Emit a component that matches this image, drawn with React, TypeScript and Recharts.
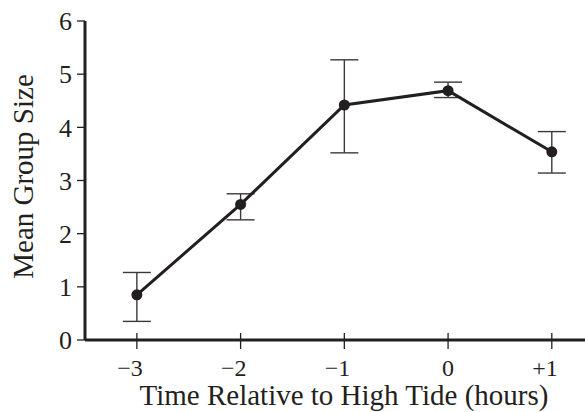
import * as React from 'react';
import { LineChart, Line, XAxis, YAxis, ErrorBar } from 'recharts';

// Time relative to high tide (hours)
const hours = [-3, -2, -1, 0, 1];
// Mean group size at each time
const means = [0.85, 2.55, 4.42, 4.69, 3.54];
// Error bar ends
const lower = [0.35, 2.26, 3.52, 4.56, 3.14];
const upper = [1.27, 2.75, 5.27, 4.85, 3.92];
const yTicks = [0, 1, 2, 3, 4, 5, 6];

const INK = '#231f20';
const FONT = "'Liberation Serif', 'Times New Roman', serif";

const data = hours.map((h, i) => ({
  hour: h,
  mean: means[i],
  err: [means[i] - lower[i], upper[i] - means[i]],
}));

function formatHour(h: number) {
  if (h > 0) return `+${h}`;
  if (h < 0) return `\u2212${Math.abs(h)}`;
  return `${h}`;
}

// x tick: the mark crosses the axis, digit sits under the mark
function HourTick(props: any) {
  const { x, y, payload } = props;
  return (
    <g>
      <line x1={x} x2={x} y1={y - 7} y2={y + 9} stroke={INK} strokeWidth={1.3} />
      <text
        x={x + 6}
        y={y + 35.5}
        textAnchor="end"
        style={{ fontFamily: FONT, fontSize: 24 }}
        fill={INK}
      >
        {formatHour(payload.value)}
      </text>
    </g>
  );
}

export default function App() {
  return (
    <div
      style={{
        position: 'absolute',
        left: 0,
        top: 0,
        background: '#fff',
        fontFamily: FONT,
      }}
    >
      <LineChart
        width={585}
        height={412}
        data={data}
        margin={{ top: 21, right: 0, bottom: 0, left: 0 }}
        style={{ fontFamily: FONT }}
      >
        <XAxis
          dataKey="hour"
          type="number"
          domain={[-3.5, 1.32]}
          ticks={hours}
          allowDataOverflow
          height={72}
          stroke={INK}
          axisLine={{ stroke: INK, strokeWidth: 3 }}
          tickLine={false}
          tickSize={0}
          tickMargin={0}
          tick={<HourTick />}
          label={{
            content: ({ viewBox }: any) => (
              <text
                x={viewBox.x + viewBox.width / 2 + 9}
                y={viewBox.y + viewBox.height - 7}
                textAnchor="middle"
                style={{ fontFamily: FONT, fontSize: 29 }}
                fill={INK}
              >
                Time Relative to High Tide (hours)
              </text>
            ),
          }}
        />
        <YAxis
          type="number"
          domain={[0, 6]}
          ticks={yTicks}
          width={85}
          stroke={INK}
          axisLine={{ stroke: INK, strokeWidth: 3 }}
          tickLine={{ stroke: INK, strokeWidth: 1.3 }}
          tickSize={8}
          tickMargin={5}
          tick={{ fontSize: 26, fill: INK, style: { fontFamily: FONT } }}
          label={{
            content: ({ viewBox }: any) => {
              const cx = 33;
              const cy = viewBox.y + viewBox.height / 2 - 4;
              return (
                <text
                  x={cx}
                  y={cy}
                  transform={`rotate(-90, ${cx}, ${cy})`}
                  textAnchor="middle"
                  style={{ fontFamily: FONT, fontSize: 29 }}
                  fill={INK}
                >
                  Mean Group Size
                </text>
              );
            },
          }}
        />
        <Line
          dataKey="mean"
          type="linear"
          stroke={INK}
          strokeWidth={3}
          dot={{ r: 5.5, fill: INK, stroke: 'none' }}
          isAnimationActive={false}
        >
          <ErrorBar
            dataKey="err"
            direction="y"
            width={14}
            stroke="#3a3a3a"
            strokeWidth={1.4}
            isAnimationActive={false}
          />
        </Line>
      </LineChart>
    </div>
  );
}
